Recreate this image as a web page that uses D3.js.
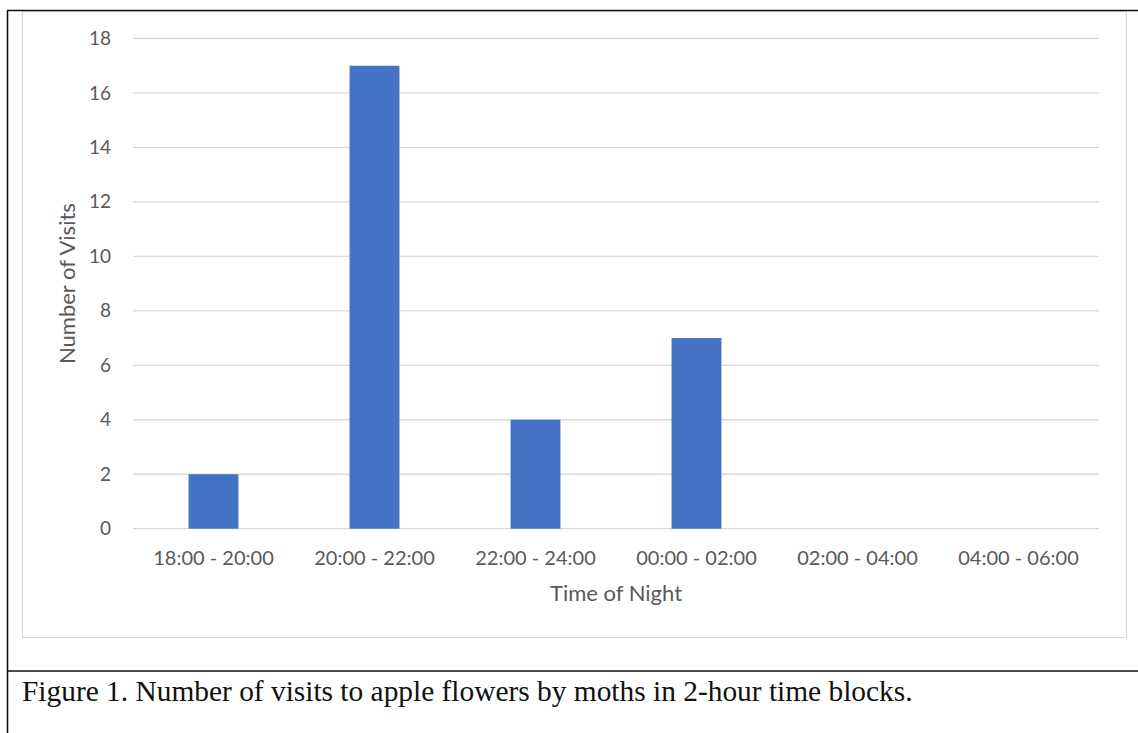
<!DOCTYPE html>
<html>
<head>
<meta charset="utf-8">
<script src="https://cdn.jsdelivr.net/npm/d3@7"></script>
<style>
  body { margin: 0; background: #fff; }
  svg { display: block; }
</style>
</head>
<body>
<svg id="chart"></svg>
<script>
var timeBlocks = ["18:00 - 20:00", "20:00 - 22:00", "22:00 - 24:00", "00:00 - 02:00", "02:00 - 04:00", "04:00 - 06:00"];
var visits = [2, 17, 4, 7, 0, 0];
var yTicks = [0, 2, 4, 6, 8, 10, 12, 14, 16, 18];
var captionText = "Figure 1. Number of visits to apple flowers by moths in 2-hour time blocks.";

(function() {
  var W = 1138, H = 733;
  var margin = {top: 38.5, right: 39, bottom: 204.3, left: 133},
      width = W - margin.left - margin.right,
      height = H - margin.top - margin.bottom;

  var font = "Lato, 'Open Sans', sans-serif";

  var svg = d3.select("#chart")
    .attr("width", W)
    .attr("height", H);

  svg.append("rect").attr("width", W).attr("height", H).attr("fill", "#fff");

  // chart area border
  svg.append("rect")
    .attr("x", 22.5).attr("y", 11.5)
    .attr("width", 1104).attr("height", 626)
    .attr("fill", "none")
    .attr("stroke", "#d9d9d9")
    .attr("stroke-width", 1.2);

  // document frame lines
  svg.append("line").attr("x1", 7).attr("x2", W).attr("y1", 10.5).attr("y2", 10.5)
    .attr("stroke", "#111").attr("stroke-width", 1.6);
  svg.append("line").attr("x1", 7.5).attr("x2", 7.5).attr("y1", 10).attr("y2", H)
    .attr("stroke", "#111").attr("stroke-width", 1.6);
  svg.append("line").attr("x1", 7).attr("x2", W).attr("y1", 671).attr("y2", 671)
    .attr("stroke", "#111").attr("stroke-width", 1.6);

  var g = svg.append("g")
    .attr("transform", "translate(" + margin.left + "," + margin.top + ")");

  var x = d3.scaleBand()
    .domain(timeBlocks)
    .range([0, width])
    .paddingInner(0.69)
    .paddingOuter(0.345);

  var y = d3.scaleLinear()
    .domain([0, 18])
    .range([height, 0]);

  // gridlines
  g.selectAll(".grid")
    .data(yTicks)
    .enter()
    .append("line")
    .attr("class", "grid")
    .attr("x1", 0).attr("x2", width)
    .attr("y1", function(d) { return y(d); })
    .attr("y2", function(d) { return y(d); })
    .attr("stroke", "#d9d9d9")
    .attr("stroke-width", 1.3);

  // y axis labels
  var yAxis = g.append("g")
    .call(d3.axisLeft(y).tickValues(yTicks).tickSize(0).tickPadding(22));
  yAxis.select(".domain").remove();
  yAxis.selectAll("text")
    .attr("fill", "#595959")
    .style("font-family", font)
    .style("font-size", "19px");

  // x axis labels
  var xAxis = g.append("g")
    .attr("transform", "translate(0," + height + ")")
    .call(d3.axisBottom(x).tickSize(0).tickPadding(22));
  xAxis.select(".domain").remove();
  xAxis.selectAll("text")
    .attr("fill", "#595959")
    .style("font-family", font)
    .style("font-size", "20px");

  // bars
  g.selectAll(".bar")
    .data(visits)
    .enter()
    .append("rect")
    .attr("class", "bar")
    .attr("x", function(d, i) { return x(timeBlocks[i]); })
    .attr("y", function(d) { return y(d); })
    .attr("width", x.bandwidth())
    .attr("height", function(d) { return height - y(d); })
    .attr("fill", "#4472c4");

  // axis titles
  g.append("text")
    .attr("x", width / 2)
    .attr("y", height + 72)
    .attr("text-anchor", "middle")
    .attr("fill", "#595959")
    .style("font-family", font)
    .style("font-size", "22px")
    .text("Time of Night");

  g.append("text")
    .attr("transform", "translate(-58," + (height / 2) + ") rotate(-90)")
    .attr("text-anchor", "middle")
    .attr("fill", "#595959")
    .style("font-family", font)
    .style("font-size", "22px")
    .text("Number of Visits");

  // caption
  svg.append("text")
    .attr("x", 22)
    .attr("y", 701)
    .attr("fill", "#111")
    .style("font-family", "'Liberation Serif', 'Times New Roman', serif")
    .style("font-size", "29.4px")
    .text(captionText);
})();
</script>
</body>
</html>
